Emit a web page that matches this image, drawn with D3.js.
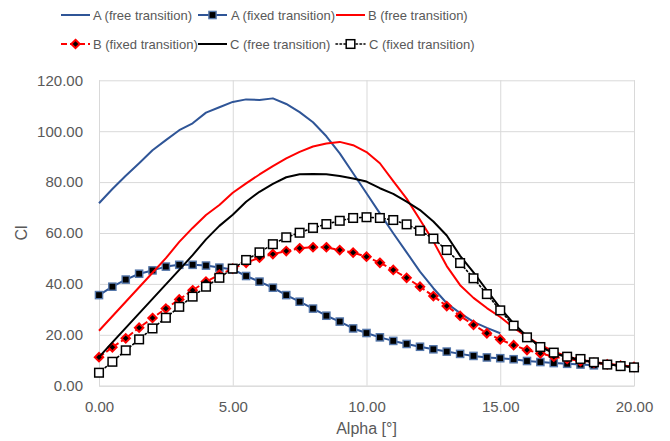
<!DOCTYPE html>
<html><head><meta charset="utf-8">
<script src="https://cdn.jsdelivr.net/npm/d3@7/dist/d3.min.js"></script>
<style>
body{margin:0;background:#fff}
svg{display:block;font-family:"Liberation Sans",Arial,sans-serif}
</style>
</head><body>
<svg id="chart" width="670" height="441"></svg>
<script>
// ---------- data ----------
const alpha = [0,0.5,1,1.5,2,2.5,3,3.5,4,4.5,5,5.5,6,6.5,7,7.5,8,8.5,9,9.5,10,10.5,11,11.5,12,12.5,13,13.5,14,14.5,15,15.5,16,16.5,17,17.5,18,18.5,19,19.5,20];
const aFree  = [71.7,77.3,82.5,87.4,92.5,96.5,100.4,103.1,107.3,109.4,111.5,112.5,112.3,112.9,110.7,107.5,103.5,98.0,91.3,83.5,75.6,67.7,59.9,52.4,44.8,38.3,32.4,28.5,25.1,22.7,20.6];
const aFixed = [35.6,38.9,41.7,44.0,45.3,46.8,47.5,47.5,47.2,46.4,45.7,43.1,40.9,38.5,35.6,33.0,30.3,27.5,25.2,22.5,20.7,19.0,17.6,16.4,15.3,14.3,13.4,12.5,11.7,11.1,10.8,10.4,9.7,9.3,8.9,8.6,8.3,8.0];
const bFree  = [21.6,27.3,33.0,38.7,44.4,50.1,56.5,62.0,67.1,71.0,75.8,79.5,83.0,86.3,89.3,91.9,94.0,95.2,95.8,94.5,91.8,87.4,80.4,73.5,65.2,56.7,47.0,39.5,34.5,30.5,27.0,22.8,19.2,16.0,13.5,11.5,10.2,9.3,8.6,8.0,7.4];
const bFixed = [11.2,15.1,18.6,22.8,26.6,30.3,33.9,37.5,40.9,43.6,46.0,48.3,50.3,51.7,52.9,54.0,54.4,54.4,53.3,52.3,50.7,48.3,45.5,42.4,38.9,35.2,31.3,27.4,23.9,20.6,18.2,15.9,14.0,12.7,11.4,10.5,9.7,9.0,8.4,7.9,7.4];
const cFree  = [11.2,17.0,22.7,28.4,34.1,39.8,45.5,51.3,57.5,62.8,67.2,72.3,76.2,79.3,81.9,83.1,83.2,83.1,82.4,81.4,80.2,77.6,75.4,72.3,69.0,64.5,59.0,51.0,44.5,37.5,30.5,24.5,19.3,15.3,12.8,11.2,10.0,9.2,8.4,7.8,7.3];
const cFixed = [5.1,9.4,13.9,18.2,22.5,26.7,31.0,35.0,38.9,42.4,46.0,49.4,52.4,55.6,58.3,60.1,62.0,63.5,64.8,65.9,66.2,65.9,65.1,63.4,60.9,57.8,53.3,48.2,42.2,36.0,29.6,23.6,19.0,15.2,13.0,11.4,10.5,9.2,8.3,7.7,7.2];
const seriesNames = ["A (free transition)","A (fixed transition)","B (free transition)","B (fixed transition)","C (free transition)","C (fixed transition)"];
const xTicks = [0,5,10,15,20];
const yTicks = [0,20,40,60,80,100,120];
const xTitle = "Alpha [°]";
const yTitle = "Cl";

// ---------- setup ----------
const svg = d3.select("#chart");
const L = 99, R = 634, T = 80.3, B = 385.7;
const x = d3.scaleLinear().domain([0,20]).range([L,R]);
const y = d3.scaleLinear().domain([0,120]).range([B,T]);
const fmt = d3.format(".2f");
const textCol = "#595959", gridCol = "#d9d9d9";

// grid
const gY = svg.append("g").attr("transform",`translate(${L},0)`)
  .call(d3.axisLeft(y).tickValues(yTicks).tickSize(-(R-L)).tickFormat(fmt).tickPadding(16));
gY.select(".domain").remove();
gY.selectAll("line").attr("stroke",gridCol).attr("stroke-width",1);
gY.selectAll("text").attr("fill",textCol).attr("font-size",15).attr("font-family","Liberation Sans, Arial, sans-serif");

const gX = svg.append("g").attr("transform",`translate(0,${B})`)
  .call(d3.axisBottom(x).tickValues(xTicks).tickSize(-(B-T)).tickFormat(fmt).tickPadding(16));
gX.select(".domain").attr("stroke",gridCol);
gX.selectAll("line").attr("stroke",gridCol).attr("stroke-width",1);
gX.selectAll("text").attr("fill",textCol).attr("font-size",15).attr("font-family","Liberation Sans, Arial, sans-serif");

// axis titles
svg.append("text").attr("x",(L+R)/2).attr("y",434).attr("text-anchor","middle")
  .attr("fill",textCol).attr("font-size",16).text(xTitle);
svg.append("text").attr("transform",`translate(27,${(T+B)/2}) rotate(-90)`).attr("text-anchor","middle")
  .attr("fill",textCol).attr("font-size",16).text(yTitle);

// ---------- series ----------
const blue = "#2F5597", red = "#FF0000", black = "#000000";
function pts(vals){ return vals.map((v,i)=>[alpha[i],v]); }
const line = d3.line().x(d=>x(d[0])).y(d=>y(d[1]));

const series = [
  {name:seriesNames[0], data:pts(aFree),  color:blue,  width:2, dash:null, marker:null},
  {name:seriesNames[1], data:pts(aFixed), color:blue,  width:2, dash:null, marker:"squareBlk"},
  {name:seriesNames[2], data:pts(bFree),  color:red,   width:2, dash:null, marker:null},
  {name:seriesNames[3], data:pts(bFixed), color:red,   width:2, dash:"6,3", marker:"diamond"},
  {name:seriesNames[4], data:pts(cFree),  color:black, width:2, dash:null, marker:null},
  {name:seriesNames[5], data:pts(cFixed), color:black, width:1.6, dash:"1.5,2.5", marker:"squareWht"}
];

function drawMarker(g, type, cx, cy){
  if(type==="squareBlk"){
    g.append("rect").attr("x",cx-3.6).attr("y",cy-3.6).attr("width",7.2).attr("height",7.2)
      .attr("fill","#000").attr("stroke","#5577aa").attr("stroke-width",1.4);
  } else if(type==="diamond"){
    const s=4.2;
    g.append("path").attr("d",`M${cx},${cy-s}L${cx+s},${cy}L${cx},${cy+s}L${cx-s},${cy}Z`)
      .attr("fill","#000").attr("stroke",red).attr("stroke-width",2);
  } else if(type==="squareWht"){
    g.append("rect").attr("x",cx-4.3).attr("y",cy-4.3).attr("width",8.6).attr("height",8.6)
      .attr("fill","#fff").attr("stroke","#000").attr("stroke-width",1.5);
  }
}

const plot = svg.append("g");
series.forEach(s=>{
  const g = plot.append("g");
  g.append("path").attr("d",line(s.data)).attr("fill","none")
    .attr("stroke",s.color).attr("stroke-width",s.width)
    .attr("stroke-dasharray",s.dash).attr("stroke-linejoin","round")
    .attr("stroke-linecap", s.dash==="1.5,2.5" ? "round" : "butt");
  if(s.marker) s.data.forEach(d=>drawMarker(g,s.marker,x(d[0]),y(d[1])));
});

// ---------- legend ----------
const legPos = [
  {lx:61, tx:93, cy:15},
  {lx:198, tx:231, cy:15},
  {lx:336, tx:368, cy:15},
  {lx:61, tx:93, cy:44},
  {lx:198, tx:230, cy:44},
  {lx:336, tx:369, cy:44}
];
series.forEach((s,i)=>{
  const p = legPos[i];
  const g = svg.append("g");
  g.append("line").attr("x1",p.lx).attr("x2",p.lx+29).attr("y1",p.cy).attr("y2",p.cy)
    .attr("stroke",s.color).attr("stroke-width",s.width).attr("stroke-dasharray",s.dash)
    .attr("stroke-linecap", s.dash==="1.5,2.5" ? "round" : "butt");
  if(s.marker) drawMarker(g,s.marker,p.lx+14.5,p.cy);
  g.append("text").attr("x",p.tx).attr("y",p.cy+5).attr("font-size",13)
    .attr("fill",textCol).text(s.name);
});
</script>
</body></html>
